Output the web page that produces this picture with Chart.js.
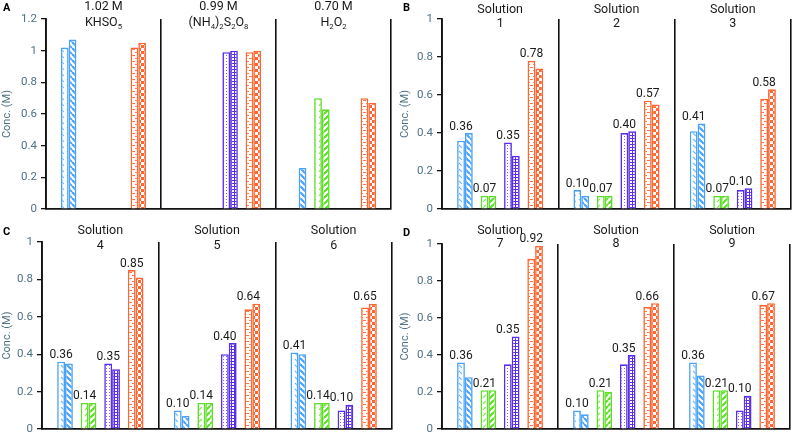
<!DOCTYPE html>
<html><head><meta charset="utf-8">
<script src="https://cdn.jsdelivr.net/npm/chart.js@4.4.1/dist/chart.umd.min.js"></script>
<style>
html,body{margin:0;padding:0;background:#fff;width:796px;height:440px;overflow:hidden}
canvas{position:absolute}
</style></head><body>
<canvas id="cA" width="398" height="220" style="left:0;top:0"></canvas>
<canvas id="cB" width="398" height="220" style="left:398px;top:0"></canvas>
<canvas id="cC" width="398" height="220" style="left:0;top:220px"></canvas>
<canvas id="cD" width="398" height="220" style="left:398px;top:220px"></canvas>
<script>
// ---------- DATA ----------
// Panel A: single oxidant solutions
const groupsA = [['1.02 M', 'KHSO₅'], ['0.99 M', '(NH₄)₂S₂O₈'], ['0.70 M', 'H₂O₂']];
const blueA1   = [1.02, null, null];
const blueA2   = [1.07, null, 0.26];
const greenA1  = [null, null, 0.70];
const greenA2  = [null, null, 0.63];
const purpleA1 = [null, 0.99, null];
const purpleA2 = [null, 1.00, null];
const orangeA1 = [1.02, 0.99, 0.70];
const orangeA2 = [1.05, 1.00, 0.67];

// Panels B–D: solutions 1–9
const solutionNames = ['1', '2', '3', '4', '5', '6', '7', '8', '9'];
const blueMeas   = [0.36, 0.10, 0.41, 0.36, 0.10, 0.41, 0.36, 0.10, 0.36];
const bluePred   = [0.40, 0.07, 0.45, 0.35, 0.07, 0.40, 0.28, 0.08, 0.29];
const greenMeas  = [0.07, 0.07, 0.07, 0.14, 0.14, 0.14, 0.21, 0.21, 0.21];
const greenPred  = [0.07, 0.07, 0.07, 0.14, 0.14, 0.14, 0.21, 0.20, 0.21];
const purpleMeas = [0.35, 0.40, 0.10, 0.35, 0.40, 0.10, 0.35, 0.35, 0.10];
const purplePred = [0.28, 0.41, 0.11, 0.32, 0.46, 0.13, 0.50, 0.40, 0.18];
const orangeMeas = [0.78, 0.57, 0.58, 0.85, 0.64, 0.65, 0.92, 0.66, 0.67];
const orangePred = [0.74, 0.55, 0.63, 0.81, 0.67, 0.67, 0.99, 0.68, 0.68];

const yTitle = 'Conc. (M)';
const groupWord = 'Solution';

// ---------- STYLE ----------
const FONT = 'Roboto, "Liberation Sans", sans-serif';
const TICK = '#4e7184';
const COL = { blue: '#4aa2f8', green: '#5ede28', purple: '#5a2cec', orange: '#ff6530' };

function pat(w, h, color, draw) {
  const c = document.createElement('canvas'); c.width = w; c.height = h;
  const g = c.getContext('2d');
  g.fillStyle = '#fff'; g.fillRect(0, 0, w, h);
  g.strokeStyle = color; g.fillStyle = color;
  draw(g, w, h);
  return g.createPattern(c, 'repeat');
}
const P = {
  blue1: pat(6, 6, COL.blue, (g) => { g.globalAlpha = 0.8; g.lineWidth = 1.1; g.beginPath(); g.moveTo(1, 1); g.lineTo(3.8, 3.8); g.stroke(); }),
  blue2: pat(6, 6, COL.blue, (g) => { g.lineWidth = 2.2; g.beginPath(); for (const k of [-6, 0, 6]) { g.moveTo(k, 0); g.lineTo(k + 6, 6); } g.stroke(); }),
  green1: pat(6, 6, COL.green, (g) => { g.globalAlpha = 0.8; g.lineWidth = 1.1; g.beginPath(); g.moveTo(1, 3.8); g.lineTo(3.8, 1); g.stroke(); }),
  green2: pat(6, 6, COL.green, (g) => { g.lineWidth = 2.2; g.beginPath(); for (const k of [-6, 0, 6]) { g.moveTo(k, 6); g.lineTo(k + 6, 0); } g.stroke(); }),
  purple1: pat(3, 3, COL.purple, (g) => { g.globalAlpha = 0.75; g.fillRect(1, 1, 1, 1); }),
  purple2: pat(3, 3, COL.purple, (g) => { g.fillRect(0, 0, 3, 1); g.fillRect(0, 0, 1, 3); }),
  orange1: pat(6, 6, COL.orange, (g) => { g.globalAlpha = 0.9; g.fillRect(0, 1, 3, 1); g.fillRect(3, 4, 3, 1); }),
  orange2: pat(6, 6, COL.orange, (g) => { g.fillRect(0, 0, 3, 3); g.fillRect(3, 3, 3, 3); })
};

const SUB = { '₀': '0', '₁': '1', '₂': '2', '₃': '3', '₄': '4', '₅': '5', '₆': '6', '₇': '7', '₈': '8', '₉': '9' };
function drawRich(ctx, text, cx, cy, size) {
  const runs = []; let cur = null;
  for (const ch of text) {
    const sub = ch in SUB; const c = sub ? SUB[ch] : ch;
    if (!cur || cur.sub !== sub) { cur = { sub, t: '' }; runs.push(cur); }
    cur.t += c;
  }
  const subSize = size * 0.62;
  let w = 0;
  runs.forEach(r => { ctx.font = (r.sub ? subSize : size) + 'px ' + FONT; r.w = ctx.measureText(r.t).width; w += r.w; });
  let x = cx - w / 2;
  ctx.textAlign = 'left'; ctx.textBaseline = 'middle';
  runs.forEach(r => {
    ctx.font = (r.sub ? subSize : size) + 'px ' + FONT;
    ctx.fillText(r.t, x, r.sub ? cy + size * 0.3 : cy);
    x += r.w;
  });
}

function ds(data, color, fill) {
  return { data, backgroundColor: fill, borderColor: color, borderWidth: 1.6, borderSkipped: 'start' };
}
function gap(n) { return { data: new Array(n).fill(null), backgroundColor: 'transparent', borderWidth: 0 }; }

function makePanel(id, cfg) {
  const n = cfg.groups.length;
  const datasets = [
    ds(cfg.s.b1, COL.blue, P.blue1), ds(cfg.s.b2, COL.blue, P.blue2), gap(n),
    ds(cfg.s.g1, COL.green, P.green1), ds(cfg.s.g2, COL.green, P.green2), gap(n),
    ds(cfg.s.p1, COL.purple, P.purple1), ds(cfg.s.p2, COL.purple, P.purple2), gap(n),
    ds(cfg.s.o1, COL.orange, P.orange1), ds(cfg.s.o2, COL.orange, P.orange2)
  ];
  const deco = {
    id: 'deco' + id,
    afterDraw(chart) {
      const ctx = chart.ctx, xs = chart.scales.x, ys = chart.scales.y;
      ctx.save();
      ctx.fillStyle = '#000';
      ctx.font = 'bold 11px ' + FONT; ctx.textAlign = 'left'; ctx.textBaseline = 'top';
      ctx.fillText(cfg.letter, cfg.letterPos[0], cfg.letterPos[1]);
      ctx.fillStyle = '#1a1a1a';
      cfg.groups.forEach((g, i) => {
        const x = xs.getPixelForValue(i);
        drawRich(ctx, g[0], x, cfg.titleY[0], 12.5);
        drawRich(ctx, g[1], x, cfg.titleY[1], 12.5);
      });
      if (cfg.labels) {
        ctx.font = '12px ' + FONT; ctx.textAlign = 'center'; ctx.textBaseline = 'alphabetic';
        for (let k = 0; k < 4; k++) {
          const m = chart.data.datasets[k * 3].data, p = chart.data.datasets[k * 3 + 1].data;
          const meta = chart.getDatasetMeta(k * 3);
          m.forEach((v, i) => {
            if (v == null) return;
            const top = ys.getPixelForValue(Math.max(v, p[i] == null ? 0 : p[i]));
            ctx.fillText(v.toFixed(2), meta.data[i].x, top - 3.5);
          });
        }
      }
      ctx.restore();
    }
  };
  return new Chart(document.getElementById(id), {
    type: 'bar',
    data: { labels: cfg.groups.map(g => g.join(' ')), datasets },
    options: {
      responsive: false, animation: false,
      layout: { padding: cfg.pad },
      datasets: { bar: { categoryPercentage: 0.74, barPercentage: 1.0 } },
      plugins: { legend: { display: false }, tooltip: { enabled: false } },
      scales: {
        x: {
          ticks: { display: false },
          grid: { offset: true, drawTicks: false, color: '#111', lineWidth: 1.6 },
          border: { color: '#111', width: 1.8 }
        },
        y: {
          min: 0, max: cfg.yMax,
          ticks: { stepSize: 0.2, color: TICK, font: { family: FONT, size: 11.5 }, padding: 4,
                   callback: v => String(Math.round(v * 10) / 10) },
          grid: { drawOnChartArea: false, drawTicks: true, tickLength: 5, color: '#111', lineWidth: 1.3 },
          border: { color: '#111', width: 1.8 },
          title: { display: true, text: yTitle, color: TICK, font: { family: FONT, size: 11 }, padding: { top: 1, bottom: 0 } },
          afterFit: s => { s.width = cfg.leftW; }
        }
      }
    },
    plugins: [deco]
  });
}

const sol = (a, b) => solutionNames.slice(a, b).map(s => [groupWord, s]);
const sl = (arr, a, b) => arr.slice(a, b);
function solSeries(a, b) {
  return { b1: sl(blueMeas, a, b), b2: sl(bluePred, a, b), g1: sl(greenMeas, a, b), g2: sl(greenPred, a, b),
           p1: sl(purpleMeas, a, b), p2: sl(purplePred, a, b), o1: sl(orangeMeas, a, b), o2: sl(orangePred, a, b) };
}

makePanel('cA', { letter: 'A', letterPos: [3, 3], groups: groupsA, yMax: 1.2, labels: false,
  s: { b1: blueA1, b2: blueA2, g1: greenA1, g2: greenA2, p1: purpleA1, p2: purpleA2, o1: orangeA1, o2: orangeA2 },
  leftW: 46, pad: { left: 0, top: 19, right: 7, bottom: 9 }, titleY: [6.5, 23] });
makePanel('cB', { letter: 'B', letterPos: [5, 3], groups: sol(0, 3), yMax: 1, labels: true, s: solSeries(0, 3),
  leftW: 44, pad: { left: 0, top: 19, right: 5, bottom: 9 }, titleY: [9.5, 24] });
makePanel('cC', { letter: 'C', letterPos: [3, 7], groups: sol(3, 6), yMax: 1, labels: true, s: solSeries(3, 6),
  leftW: 42, pad: { left: 0, top: 22, right: 6, bottom: 7 }, titleY: [11, 26] });
makePanel('cD', { letter: 'D', letterPos: [5, 8], groups: sol(6, 9), yMax: 1, labels: true, s: solSeries(6, 9),
  leftW: 44, pad: { left: 0, top: 24, right: 6, bottom: 7 }, titleY: [11, 23.5] });
</script>
</body></html>
